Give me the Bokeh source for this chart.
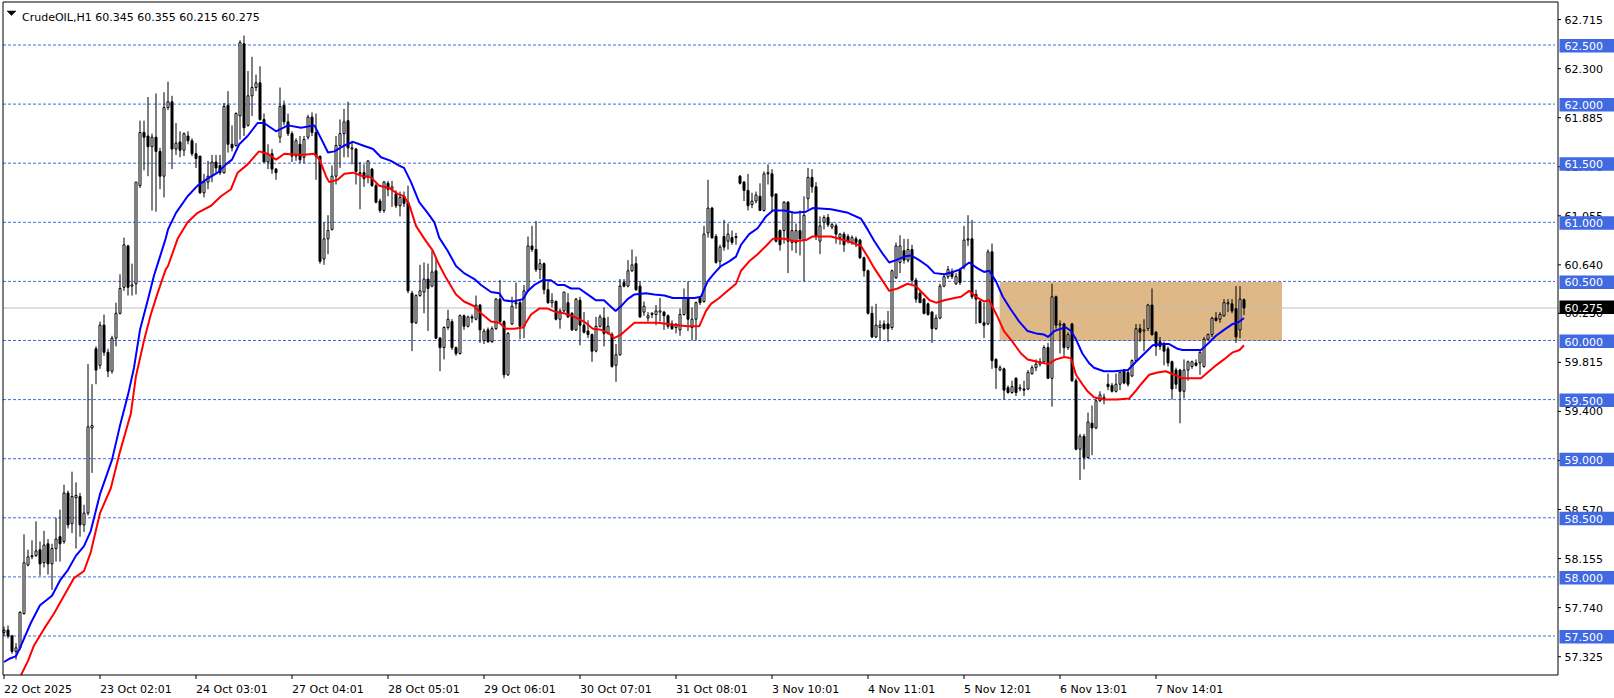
from bokeh.plotting import figure
from bokeh.models import Range1d
from bokeh.embed import file_html
from bokeh.resources import INLINE
from bokeh.core.properties import value

# ---------------- data ----------------
SYMBOL = "CrudeOIL,H1"

OPEN = [
    57.53, 57.55, 57.50, 57.37, 57.40, 57.69, 58.10, 58.17, 58.18, 58.23,
    58.12, 58.28, 58.11, 58.24, 58.34, 58.30, 58.71, 58.45, 58.67, 58.68,
    58.44, 58.54, 59.26, 59.93, 59.79, 60.13, 59.90, 59.74, 60.02, 60.23,
    60.45, 60.80, 60.46, 60.48, 61.31, 61.76, 61.73, 61.64, 61.72, 61.60,
    61.39, 61.97, 62.02, 61.62, 61.68, 61.61, 61.73, 61.69, 61.58, 61.56,
    61.25, 61.34, 61.39, 61.51, 61.48, 61.42, 61.99, 61.66, 61.65, 61.90,
    62.51, 61.82, 62.07, 62.14, 62.18, 61.87, 61.51, 61.58, 61.45, 61.72,
    61.99, 61.85, 61.75, 61.56, 61.66, 61.55, 61.72, 61.89, 61.76, 61.56,
    60.69, 60.86, 60.94, 61.39, 61.65, 61.75, 61.86, 61.62, 61.62, 61.41,
    61.42, 61.39, 61.45, 61.31, 61.18, 61.10, 61.33, 61.28, 61.24, 61.14,
    61.22, 61.17, 60.40, 60.15, 60.38, 60.41, 60.52, 60.46, 60.59, 60.02,
    59.94, 60.11, 60.16, 59.94, 59.89, 60.21, 60.12, 60.20, 60.18, 60.30,
    60.00, 60.09, 59.99, 60.10, 60.35, 60.16, 59.71, 60.14, 60.31, 60.32,
    60.12, 60.42, 60.80, 60.77, 60.60, 60.65, 60.43, 60.32, 60.33, 60.18,
    60.25, 60.32, 60.23, 60.09, 60.34, 60.13, 60.08, 60.05, 59.91, 60.12,
    60.19, 60.06, 60.05, 59.79, 59.88, 60.49, 60.46, 60.59, 60.65, 60.46,
    60.24, 60.19, 60.22, 60.22, 60.24, 60.24, 60.21, 60.14, 60.11, 60.09,
    60.22, 60.36, 60.11, 60.18, 60.36, 60.33, 60.91, 61.12, 60.88, 60.67,
    60.88, 60.84, 60.87, 60.87, 61.39, 61.34, 61.27, 61.15, 61.18, 61.22,
    61.10, 61.41, 61.41, 61.24, 60.93, 60.93, 61.17, 60.83, 60.83, 60.93,
    60.85, 61.20, 61.38, 61.30, 60.84, 61.00, 61.04, 60.96, 60.97, 60.87,
    60.90, 60.88, 60.83, 60.86, 60.85, 60.70, 60.59, 60.23, 60.03, 60.11,
    60.14, 60.14, 60.11, 60.53, 60.66, 60.76, 60.68, 60.77, 60.51, 60.40,
    60.35, 60.31, 60.24, 60.10, 60.19, 60.46, 60.54, 60.58, 60.48, 60.60,
    60.62, 60.85, 60.86, 60.39, 60.33, 60.15, 60.14, 60.75, 59.84, 59.75,
    59.76, 59.60, 59.56, 59.68, 59.59, 59.59, 59.59, 59.72, 59.77, 59.80,
    59.82, 59.94, 59.68, 60.37, 60.13, 60.14, 59.94, 60.14, 59.66, 59.08,
    59.19, 59.01, 59.30, 59.26, 59.49, 59.51, 59.63, 59.62, 59.57, 59.63,
    59.75, 59.73, 59.70, 59.83, 60.10, 60.08, 60.10, 60.30, 60.07, 59.99,
    59.97, 59.93, 59.82, 59.75, 59.75, 59.57, 59.75, 59.78, 59.81, 59.81,
    59.78, 60.01, 60.05, 60.19, 60.18, 60.21, 60.31, 60.31, 60.27, 60.09, 60.345,
]

HIGH = [
    57.58, 57.59, 57.51, 57.44, 57.71, 58.36, 58.23, 58.31, 58.47, 58.30,
    58.39, 58.32, 58.28, 58.50, 58.57, 58.78, 58.73, 58.89, 58.80, 58.71,
    58.61, 59.80, 59.63, 59.95, 60.16, 60.22, 59.93, 60.04, 60.32, 60.56,
    60.87, 60.81, 60.65, 61.34, 61.86, 61.86, 62.06, 61.75, 62.09, 61.63,
    62.10, 62.19, 62.07, 61.84, 61.77, 61.76, 61.77, 61.71, 61.67, 61.56,
    61.41, 61.52, 61.57, 61.57, 61.57, 62.01, 62.11, 61.82, 61.93, 62.54,
    62.58, 62.28, 62.40, 62.25, 62.32, 61.92, 61.66, 61.62, 61.46, 62.14,
    62.03, 61.92, 61.77, 61.71, 61.73, 61.73, 61.91, 61.93, 61.92, 61.56,
    61.00, 61.06, 61.48, 61.73, 61.87, 61.96, 62.02, 61.69, 61.63, 61.51,
    61.49, 61.52, 61.46, 61.33, 61.20, 61.35, 61.35, 61.35, 61.27, 61.26,
    61.26, 61.31, 60.42, 60.39, 60.64, 60.66, 60.65, 60.76, 60.69, 60.03,
    60.12, 60.26, 60.18, 59.95, 60.22, 60.22, 60.21, 60.22, 60.38, 60.31,
    60.10, 60.11, 60.12, 60.36, 60.51, 60.17, 60.07, 60.37, 60.49, 60.34,
    60.47, 60.88, 60.97, 61.01, 60.69, 60.66, 60.50, 60.40, 60.34, 60.27,
    60.41, 60.40, 60.24, 60.36, 60.37, 60.24, 60.17, 60.06, 60.20, 60.22,
    60.28, 60.20, 60.07, 59.97, 60.52, 60.52, 60.68, 60.77, 60.71, 60.50,
    60.33, 60.24, 60.24, 60.30, 60.36, 60.25, 60.22, 60.17, 60.14, 60.27,
    60.44, 60.50, 60.28, 60.33, 60.37, 60.97, 61.36, 61.13, 60.90, 60.81,
    61.02, 60.99, 60.93, 60.91, 61.40, 61.35, 61.41, 61.25, 61.26, 61.33,
    61.43, 61.49, 61.45, 61.24, 60.94, 61.18, 61.18, 61.09, 60.99, 61.10,
    61.22, 61.46, 61.45, 61.34, 61.05, 61.06, 61.07, 61.00, 60.99, 60.91,
    60.92, 60.90, 60.89, 60.88, 60.86, 60.71, 60.60, 60.29, 60.31, 60.17,
    60.17, 60.25, 60.60, 60.83, 60.89, 60.86, 60.86, 60.81, 60.53, 60.42,
    60.36, 60.32, 60.25, 60.22, 60.48, 60.56, 60.63, 60.61, 60.57, 60.61,
    60.97, 61.06, 61.02, 60.43, 60.35, 60.32, 60.77, 60.82, 59.85, 59.79,
    59.77, 59.62, 59.66, 59.69, 59.63, 59.66, 59.75, 59.79, 59.84, 59.85,
    59.96, 59.98, 60.48, 60.38, 60.17, 60.15, 60.07, 60.15, 59.68, 59.21,
    59.21, 59.39, 59.45, 59.51, 59.57, 59.55, 59.72, 59.64, 59.72, 59.73,
    59.76, 59.75, 59.84, 60.14, 60.14, 60.18, 60.31, 60.44, 60.08, 60.03,
    59.99, 59.95, 59.83, 59.77, 59.76, 59.84, 59.83, 59.83, 59.84, 59.92,
    60.03, 60.06, 60.20, 60.24, 60.24, 60.35, 60.35, 60.35, 60.46, 60.46, 60.355,
]

LOW = [
    57.50, 57.48, 57.35, 57.30, 57.38, 57.68, 58.09, 58.15, 58.17, 58.01,
    58.08, 58.02, 57.89, 58.13, 58.13, 58.28, 58.41, 58.37, 58.24, 58.34,
    58.38, 58.52, 58.88, 59.63, 59.76, 59.87, 59.69, 59.72, 59.95, 60.22,
    60.42, 60.38, 60.38, 60.39, 61.29, 61.44, 61.39, 61.10, 61.09, 61.28,
    61.21, 61.95, 61.45, 61.57, 61.55, 61.56, 61.66, 61.56, 61.46, 61.24,
    61.21, 61.28, 61.34, 61.41, 61.40, 61.41, 61.59, 61.60, 61.64, 61.70,
    61.73, 61.81, 61.90, 62.11, 61.86, 61.51, 61.45, 61.41, 61.36, 61.67,
    61.82, 61.73, 61.51, 61.52, 61.50, 61.50, 61.70, 61.73, 61.36, 60.65,
    60.64, 60.73, 60.93, 61.32, 61.46, 61.55, 61.55, 61.49, 61.32, 61.11,
    61.30, 61.33, 61.30, 61.16, 61.08, 61.08, 61.22, 61.13, 61.12, 61.05,
    61.13, 60.40, 59.91, 60.14, 60.37, 60.23, 60.08, 60.45, 60.01, 59.74,
    59.84, 60.09, 59.92, 59.87, 59.88, 60.09, 60.11, 60.15, 60.17, 59.98,
    59.97, 59.98, 59.98, 60.09, 60.14, 59.68, 59.70, 60.13, 60.27, 60.01,
    60.02, 60.41, 60.75, 60.58, 60.52, 60.39, 60.31, 60.28, 60.17, 60.10,
    60.24, 60.19, 60.08, 60.08, 59.96, 60.06, 60.02, 59.82, 59.90, 60.11,
    59.95, 60.05, 59.77, 59.65, 59.87, 60.45, 60.45, 60.58, 60.42, 60.19,
    60.21, 60.16, 60.19, 60.13, 60.16, 60.09, 60.10, 60.09, 60.06, 60.04,
    60.21, 60.08, 60.00, 60.00, 60.30, 60.32, 60.87, 60.86, 60.65, 60.62,
    60.76, 60.77, 60.81, 60.81, 61.32, 61.18, 61.10, 61.12, 61.16, 61.10,
    61.09, 61.32, 61.09, 60.83, 60.76, 60.82, 60.57, 60.76, 60.74, 60.72,
    60.50, 61.11, 61.25, 60.85, 60.73, 60.94, 60.96, 60.94, 60.82, 60.81,
    60.75, 60.82, 60.81, 60.79, 60.69, 60.54, 60.22, 60.02, 60.02, 60.00,
    60.09, 59.99, 60.09, 60.52, 60.57, 60.65, 60.66, 60.48, 60.32, 60.32,
    60.22, 60.21, 59.98, 60.09, 60.18, 60.45, 60.52, 60.52, 60.47, 60.47,
    60.60, 60.80, 60.35, 60.14, 60.15, 60.02, 60.13, 59.76, 59.59, 59.74,
    59.50, 59.55, 59.55, 59.53, 59.57, 59.53, 59.58, 59.71, 59.74, 59.78,
    59.81, 59.68, 59.44, 60.10, 59.89, 59.87, 59.92, 59.65, 59.07, 58.82,
    58.91, 59.00, 59.03, 59.25, 59.48, 59.46, 59.58, 59.56, 59.56, 59.58,
    59.63, 59.61, 59.69, 59.82, 59.99, 59.91, 60.08, 60.04, 59.87, 59.92,
    59.79, 59.78, 59.50, 59.59, 59.30, 59.51, 59.66, 59.76, 59.78, 59.71,
    59.77, 60.00, 60.03, 60.16, 60.15, 60.20, 60.24, 60.23, 59.98, 60.02, 60.215,
]

CLOSE = [
    57.55, 57.50, 57.37, 57.40, 57.70, 58.12, 58.17, 58.18, 58.22, 58.11,
    58.27, 58.11, 58.24, 58.32, 58.28, 58.71, 58.44, 58.68, 58.69, 58.44,
    58.54, 59.27, 59.28, 59.75, 60.13, 59.90, 59.74, 60.02, 60.23, 60.44,
    60.81, 60.45, 60.47, 61.34, 61.76, 61.72, 61.64, 61.72, 61.60, 61.39,
    61.97, 62.02, 61.62, 61.67, 61.61, 61.75, 61.69, 61.58, 61.54, 61.25,
    61.34, 61.39, 61.51, 61.46, 61.42, 61.98, 61.66, 61.63, 61.92, 62.52,
    61.80, 62.07, 62.14, 62.18, 61.87, 61.51, 61.58, 61.45, 61.42, 61.98,
    61.85, 61.75, 61.56, 61.69, 61.53, 61.70, 61.89, 61.76, 61.56, 60.67,
    60.86, 60.93, 61.39, 61.65, 61.75, 61.85, 61.63, 61.63, 61.43, 61.42,
    61.37, 61.52, 61.31, 61.17, 61.10, 61.34, 61.28, 61.30, 61.14, 61.21,
    61.16, 60.42, 60.15, 60.38, 60.42, 60.52, 60.44, 60.58, 60.02, 59.94,
    60.11, 60.18, 59.94, 59.89, 60.21, 60.12, 60.20, 60.19, 60.30, 60.09,
    60.08, 59.99, 60.10, 60.35, 60.16, 59.71, 60.06, 60.29, 60.32, 60.12,
    60.42, 60.80, 60.77, 60.60, 60.65, 60.43, 60.32, 60.34, 60.18, 60.25,
    60.41, 60.20, 60.09, 60.35, 60.13, 60.07, 60.05, 59.91, 60.12, 60.20,
    60.06, 60.12, 59.78, 59.88, 60.46, 60.46, 60.59, 60.64, 60.43, 60.20,
    60.29, 60.21, 60.23, 60.25, 60.25, 60.21, 60.12, 60.10, 60.14, 60.22,
    60.36, 60.18, 60.18, 60.32, 60.32, 60.90, 61.12, 60.87, 60.66, 60.79,
    60.79, 60.90, 60.83, 60.88, 61.33, 61.27, 61.14, 61.18, 61.23, 61.10,
    61.41, 61.42, 61.22, 60.84, 60.81, 61.17, 60.84, 60.93, 60.93, 60.86,
    61.06, 61.38, 61.30, 60.88, 60.97, 61.04, 60.98, 60.98, 60.90, 60.90,
    60.81, 60.84, 60.87, 60.83, 60.70, 60.59, 60.23, 60.03, 60.13, 60.13,
    60.10, 60.10, 60.59, 60.80, 60.80, 60.68, 60.77, 60.51, 60.35, 60.32,
    60.23, 60.22, 60.10, 60.19, 60.46, 60.54, 60.60, 60.54, 60.54, 60.49,
    60.85, 60.86, 60.37, 60.35, 60.15, 60.13, 60.75, 59.83, 59.77, 59.77,
    59.58, 59.56, 59.61, 59.56, 59.60, 59.58, 59.73, 59.77, 59.80, 59.82,
    59.94, 59.68, 60.37, 60.13, 60.14, 59.94, 60.05, 59.66, 59.08, 59.19,
    59.01, 59.31, 59.26, 59.49, 59.54, 59.52, 59.61, 59.57, 59.63, 59.73,
    59.64, 59.63, 59.83, 60.10, 60.07, 60.09, 60.30, 60.05, 59.95, 59.95,
    59.91, 59.81, 59.59, 59.63, 59.57, 59.75, 59.82, 59.82, 59.79, 59.90,
    60.01, 60.05, 60.19, 60.17, 60.22, 60.32, 60.32, 60.25, 60.03, 60.35, 60.275,
]

# moving averages: (bar index, price)
MA_BLUE_X = [0, 1.5, 3, 4, 6.7, 9, 12, 14, 16, 18, 20, 21.7, 24, 27, 29, 31, 32.5, 34, 36, 37.5,
             39, 40.4, 41, 43, 45.9, 48.4, 50.9, 53.4, 55.5, 57, 58.8, 60.9, 63.4, 65, 68, 71,
             74.25, 77.6, 79.25, 81, 82.6, 85.1, 87.25, 89.75, 92.25, 94.25, 96.75, 98.8, 100,
             101.75, 103.8, 105.9, 107.6, 108.8, 110.9, 113, 115, 117.6, 119.25, 121.75, 123.8,
             125, 127.2, 129.75, 131, 132.6, 134.75, 136.75, 138.4, 140, 141.75, 143.8, 145.9,
             148, 150, 151.25, 152.9, 154.25, 155.9, 157.6, 160.5, 162.6, 165.1, 167.2, 170.1,
             172.6, 174.25, 175.9, 177.6, 179.25, 181.3, 183, 184.25, 186.3, 188.4, 190.5,
             192.2, 195.1, 197.6, 200.5, 202.2, 206.75, 211, 214.25, 215.9, 217.6, 219.75,
             221.3, 223, 225.1, 226.75, 228.8, 230.9, 232.6, 235.1, 237.2, 238.9, 241.3,
             243.4, 245, 246.3, 248, 249.7, 251.75, 253.8, 255.9, 258, 260, 261, 262.6,
             264.25, 265.5, 266.75, 268, 269.6, 271.25, 272.5, 275, 277.6, 281, 283, 285.1,
             287.2, 289.25, 291.3, 293.4, 294.6, 296.75, 299.25, 300.9, 303, 305, 307.2,
             308.9, 310]
MA_BLUE_Y = [57.28, 57.31, 57.33, 57.40, 57.61, 57.76, 57.84, 57.97, 58.06, 58.18, 58.26, 58.39,
             58.70, 58.99, 59.28, 59.54, 59.77, 60.09, 60.35, 60.55, 60.71, 60.86, 60.94, 61.08,
             61.22, 61.31, 61.37, 61.42, 61.49, 61.53, 61.66, 61.73, 61.84, 61.84, 61.77, 61.82,
             61.80, 61.82, 61.71, 61.59, 61.60, 61.65, 61.68, 61.65, 61.62, 61.55, 61.52, 61.48,
             61.46, 61.34, 61.17, 61.08, 61.00, 60.87, 60.76, 60.63, 60.57, 60.52, 60.47, 60.41,
             60.40, 60.34, 60.33, 60.35, 60.42, 60.47, 60.51, 60.51, 60.47, 60.47, 60.44, 60.44,
             60.39, 60.34, 60.34, 60.30, 60.25, 60.29, 60.35, 60.39, 60.40, 60.39, 60.38, 60.36,
             60.36, 60.36, 60.37, 60.50, 60.57, 60.63, 60.67, 60.71, 60.81, 60.90, 60.95, 61.05,
             61.10, 61.10, 61.08, 61.09, 61.12, 61.11, 61.08, 61.03, 60.94, 60.84, 60.73, 60.66,
             60.68, 60.71, 60.72, 60.68, 60.63, 60.57, 60.56, 60.58, 60.60, 60.66, 60.61, 60.58,
             60.59, 60.50, 60.37, 60.26, 60.16, 60.08, 60.06, 60.05, 60.03, 60.08, 60.10, 60.11,
             60.08, 60.01, 59.89, 59.81, 59.77, 59.74, 59.74, 59.75, 59.82, 59.89, 59.96, 59.97,
             59.97, 59.93, 59.92, 59.92, 59.92, 59.97, 60.04, 60.09, 60.14, 60.16, 60.19]

MA_RED_X = [4.25, 6, 7.5, 10, 12.5, 15, 17.5, 20, 21.7, 24, 26.7, 29, 31.7, 33, 35, 36.7,
            38.3, 40.4, 41, 43.4, 45.9, 48.4, 51.75, 54.25, 56.75, 58.4, 60.9, 63.75, 65.9, 68,
            70.1, 74.25, 77.6, 78.9, 80.5, 81.3, 83.4, 85.1, 87.25, 89.75, 91.75, 93.8, 96.3,
            98.4, 100, 101.3, 103, 105.1, 107.2, 108.5, 110.5, 113, 115, 117.6, 119.25, 121.75,
            123.8, 125.5, 127.6, 129.75, 131.75, 133.8, 135.9, 138, 140, 142.6, 145, 147.2,
            149.25, 151.25, 152.5, 154.25, 155.9, 157.6, 160.5, 163.4, 165.9, 168.4, 170.9,
            173.8, 175.5, 176.75, 178.8, 180.9, 183, 184.25, 186.3, 188.4, 190.5, 192.2, 195.1,
            197.6, 200.5, 202.2, 206.75, 211, 214.25, 215.9, 217.6, 219.75, 221.3, 223.4,
            225.9, 228, 229.7, 231.4, 233, 235.1, 237.6, 239.25, 241.3, 243.4, 245, 246.3,
            248.4, 250, 252.1, 254.25, 255.9, 258.4, 261, 263, 265.1, 266.75, 268, 269.6,
            270.9, 272.5, 275, 278.25, 281.3, 282.6, 284.25, 286.3, 288.4, 290.4, 292.6,
            294.6, 297.2, 299.25, 300.9, 303, 305, 307.2, 308.9, 310]
MA_RED_Y = [57.17, 57.29, 57.42, 57.56, 57.69, 57.84, 57.99, 58.05, 58.21, 58.54, 58.75,
            59.06, 59.38, 59.70, 60.00, 60.22, 60.39, 60.60, 60.63, 60.86, 61.00, 61.08, 61.14,
            61.22, 61.28, 61.42, 61.49, 61.60, 61.58, 61.53, 61.58, 61.57, 61.58, 61.53, 61.39,
            61.34, 61.36, 61.41, 61.42, 61.39, 61.38, 61.31, 61.29, 61.24, 61.22, 61.15, 60.97,
            60.86, 60.76, 60.66, 60.53, 60.39, 60.33, 60.29, 60.23, 60.16, 60.15, 60.10, 60.10,
            60.11, 60.22, 60.27, 60.27, 60.24, 60.23, 60.20, 60.16, 60.10, 60.09, 60.06, 60.02,
            60.05, 60.10, 60.15, 60.15, 60.15, 60.14, 60.13, 60.12, 60.12, 60.25, 60.31, 60.36,
            60.42, 60.48, 60.59, 60.67, 60.73, 60.80, 60.86, 60.86, 60.84, 60.85, 60.88, 60.88,
            60.84, 60.80, 60.71, 60.61, 60.50, 60.42, 60.44, 60.48, 60.46, 60.40, 60.34, 60.32,
            60.34, 60.36, 60.37, 60.42, 60.36, 60.33, 60.34, 60.20, 60.08, 59.99, 59.89, 59.84,
            59.82, 59.80, 59.84, 59.86, 59.85, 59.71, 59.63, 59.57, 59.52, 59.50, 59.50, 59.51,
            59.56, 59.63, 59.71, 59.73, 59.74, 59.71, 59.68, 59.68, 59.68, 59.73, 59.79, 59.84,
            59.90, 59.92, 59.96]

DATE_TICKS = [0, 24, 48, 72, 96, 120, 144, 168, 192, 216, 240, 264, 288]
DATE_LABELS = ["22 Oct 2025", "23 Oct 02:01", "24 Oct 03:01", "27 Oct 04:01", "28 Oct 05:01",
               "29 Oct 06:01", "30 Oct 07:01", "31 Oct 08:01", "3 Nov 10:01", "4 Nov 11:01",
               "5 Nov 12:01", "6 Nov 13:01", "7 Nov 14:01"]

PRICE_TICKS = [62.715, 62.300, 61.885, 61.470, 61.055, 60.640, 60.230, 59.815, 59.400,
               58.985, 58.570, 58.155, 57.740, 57.325]
LEVELS = [62.5, 62.0, 61.5, 61.0, 60.5, 60.0, 59.5, 59.0, 58.5, 58.0, 57.5]
LAST_PRICE = 60.275

ZONE_BARS = (248.9, 319.5)
ZONE_PRICES = (59.995, 60.495)

# ---------------- layout (scales) ----------------
W, H = 1614, 698
PX_X = 4.0                       # pixels per bar
PX_Y = 118.2                     # pixels per price unit
X0 = -0.875
X1 = X0 + W / PX_X
Y1 = 62.5 + 44.5 / PX_Y
Y0 = Y1 - H / PX_Y

CL = X0 + 2.5 / PX_X             # chart area edges
CR = X0 + 1557.5 / PX_X
CT = Y1 - 1.5 / PX_Y
CB = Y1 - 674.5 / PX_Y

FONT = value("DejaVu Sans")
FS = value("11px")
GRID_BLUE = "#4169E1"

p = figure(width=W, height=H, x_range=Range1d(X0, X1), y_range=Range1d(Y0, Y1),
           x_axis_location=None, y_axis_location=None,
           output_backend="svg", toolbar_location=None, min_border=0,
           background_fill_color="white", border_fill_color="white")
p.outline_line_color = None
p.xgrid.visible = False
p.ygrid.visible = False

# zone rectangle
p.quad(left=[ZONE_BARS[0]], right=[ZONE_BARS[1]], bottom=[ZONE_PRICES[0]], top=[ZONE_PRICES[1]],
       fill_color="#DEB887", line_color=None)

# dashed levels and current price line
p.segment(x0=[CL] * len(LEVELS), x1=[CR - 3 / PX_X] * len(LEVELS), y0=LEVELS, y1=LEVELS,
          line_color=GRID_BLUE, line_width=1, line_dash="3 2")
p.segment(x0=[CL], x1=[CR], y0=[LAST_PRICE], y1=[LAST_PRICE], line_color="#C0C0C0", line_width=1)

# candles
n = len(CLOSE)
idx = list(range(n))
up = [i for i in idx if CLOSE[i] >= OPEN[i]]
dn = [i for i in idx if CLOSE[i] < OPEN[i]]
p.segment(x0=idx, y0=LOW, x1=idx, y1=HIGH, line_color="black", line_width=1)
p.vbar(x=up, width=0.5, top=[CLOSE[i] for i in up], bottom=[OPEN[i] for i in up],
       fill_color="white", line_color="black", line_width=1)
p.vbar(x=dn, width=0.5, top=[OPEN[i] for i in dn], bottom=[CLOSE[i] for i in dn],
       fill_color="black", line_color="black", line_width=1)

# moving averages
p.line(MA_RED_X, MA_RED_Y, line_color="#FF0000", line_width=2)
p.line(MA_BLUE_X, MA_BLUE_Y, line_color="#0000FF", line_width=2)

# chart border / axis lines
p.quad(left=[CL], right=[CR], bottom=[CB], top=[CT], fill_color=None,
       line_color="black", line_width=1)

# price axis: ticks + labels
nt = len(PRICE_TICKS)
p.segment(x0=[CR] * nt, x1=[CR + 3 / PX_X] * nt, y0=PRICE_TICKS, y1=PRICE_TICKS,
          line_color="black", line_width=1)
LBL_X = CR + 6.5 / PX_X
p.text(x=[LBL_X] * nt, y=PRICE_TICKS, text=["%.3f" % t for t in PRICE_TICKS],
       text_font=FONT, text_font_size=FS, text_color="black",
       text_align="left", text_baseline="middle")

# boxed level labels
nl = len(LEVELS)
p.quad(left=[CR + 1.5 / PX_X] * nl, right=[X1] * nl,
       top=[lv + 6 / PX_Y for lv in LEVELS], bottom=[lv - 7.5 / PX_Y for lv in LEVELS],
       fill_color=GRID_BLUE, line_color=None)
p.text(x=[LBL_X] * nl, y=[lv - 1 / PX_Y for lv in LEVELS], text=["%.3f" % lv for lv in LEVELS],
       text_font=FONT, text_font_size=FS, text_color="white",
       text_align="left", text_baseline="middle")
p.quad(left=[CR + 1.5 / PX_X], right=[X1], top=[LAST_PRICE + 7.5 / PX_Y],
       bottom=[LAST_PRICE - 6 / PX_Y], fill_color="black", line_color=None)
p.text(x=[LBL_X], y=[LAST_PRICE], text=["%.3f" % LAST_PRICE],
       text_font=FONT, text_font_size=FS, text_color="white",
       text_align="left", text_baseline="middle")

# time axis: ticks + labels
nd = len(DATE_TICKS)
p.segment(x0=DATE_TICKS, x1=DATE_TICKS, y0=[CB] * nd, y1=[CB - 4 / PX_Y] * nd,
          line_color="black", line_width=1)
p.text(x=DATE_TICKS, y=[Y1 - 689 / PX_Y] * nd, text=DATE_LABELS,
       text_font=FONT, text_font_size=FS, text_color="black",
       text_align="left", text_baseline="alphabetic")

# header
p.patch(x=[CL + 4 / PX_X, CL + 13 / PX_X, CL + 8.5 / PX_X],
        y=[CT - 9 / PX_Y, CT - 9 / PX_Y, CT - 13.5 / PX_Y],
        fill_color="black", line_color="black", line_width=0.5)
p.text(x=[CL + 19 / PX_X], y=[CT - 15 / PX_Y],
       text=["%s  %.3f %.3f %.3f %.3f" % (SYMBOL, OPEN[-1], HIGH[-1], LOW[-1], CLOSE[-1])],
       text_font=FONT, text_font_size=FS, text_color="black",
       text_align="left", text_baseline="alphabetic")

open("out.html", "w").write(file_html(p, INLINE))
